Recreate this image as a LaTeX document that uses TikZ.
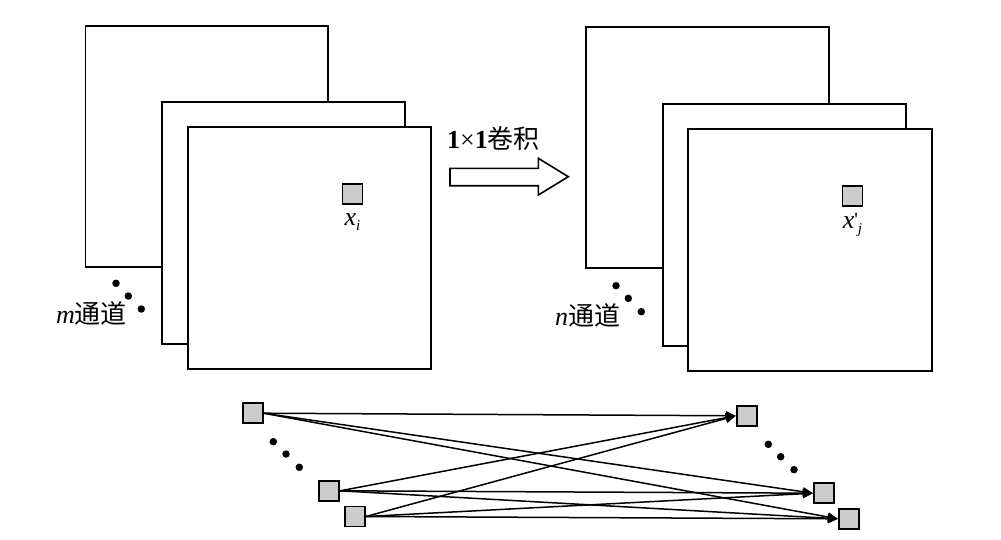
\documentclass[tikz,border=0pt]{standalone}
\usepackage{fontspec}
\setmainfont{Liberation Serif}
\newfontfamily\cjk{Noto Sans CJK SC}
\usetikzlibrary{arrows.meta}
\tikzset{
  fmap/.style={draw=black,fill=white,line width=1.9pt},
  pix/.style={draw=black,fill=black!20,line width=1.8pt,minimum width=20pt,minimum height=20pt,inner sep=0pt},
  conn/.style={line width=1.5pt,-{Triangle[length=10pt,width=9pt]}},
  dotmark/.style={circle,fill=black,inner sep=0pt,minimum size=7.5pt},
  lbl/.style={inner sep=0pt,font=\fontsize{26}{30}\selectfont},
}
\newcommand{\subs}[1]{\raisebox{-0.45ex}{\fontsize{15}{17}\selectfont\textit{#1}}}
\begin{document}
\begin{tikzpicture}[x=1pt,y=-1pt]
\useasboundingbox (0,0) rectangle (1001,539);
% left stack
\draw[fmap] (85.5,25.7) rectangle (328,266.7);
\draw[fmap] (162.3,102.3) rectangle (405.3,344);
\draw[fmap] (187.7,127.3) rectangle (430.7,369);
\node[pix] (xi) at (352.5,193.7) {};
\node[lbl] (xil) at (352.5,222) {\textit{x}\subs{i}};
\node[dotmark] (ld1) at (116,283.3) {};
\node[dotmark] (ld2) at (128.3,296) {};
\node[dotmark] (ld3) at (141.3,309) {};
\node[lbl,anchor=west] (mlab) at (56,313) {\textit{m}{\cjk 通道}};
% right stack
\draw[fmap] (585.7,27.3) rectangle (829,268.3);
\draw[fmap] (663,104.3) rectangle (906,346);
\draw[fmap] (688.3,129) rectangle (931.7,371.3);
\node[pix] (xj) at (852.5,196.2) {};
\node[lbl] (xjl) at (852.5,225) {\textit{x}\raisebox{0.2ex}{\fontsize{20}{22}\selectfont\textquotesingle}\subs{j}};
\node[dotmark] (rd1) at (616,285.7) {};
\node[dotmark] (rd2) at (628.3,298.3) {};
\node[dotmark] (rd3) at (641.3,311.7) {};
\node[lbl,anchor=west] (nlab) at (555,315) {\textit{n}{\cjk 通道}};
% big arrow
\draw[line width=1.6pt,fill=white] (450,168.3) -- (538.3,168.3) -- (538.3,158.3) -- (568.3,176.7) -- (538.3,195) -- (538.3,185.7) -- (450,185.7) -- cycle;
\node[lbl,anchor=west] (conv) at (447,139) {\textbf{1}×\textbf{1}{\cjk 卷积}};
% bottom
\node[pix] (a1) at (252.7,413.2) {};
\node[pix] (a2) at (329.3,490.8) {};
\node[pix] (a3) at (355,516.5) {};
\node[pix] (b1) at (746.7,415.8) {};
\node[pix] (b2) at (823.8,493.2) {};
\node[pix] (b3) at (848.8,518.8) {};
\node[dotmark] (bd1) at (273.3,441.7) {};
\node[dotmark] (bd2) at (286,454) {};
\node[dotmark] (bd3) at (299.3,467.3) {};
\node[dotmark] (bd4) at (768.3,444.3) {};
\node[dotmark] (bd5) at (780.7,456.7) {};
\node[dotmark] (bd6) at (794,469.7) {};
\foreach \s in {a1,a2,a3}{
  \foreach \t in {b1,b2,b3}{
    \draw[conn] (\s.east) -- (\t.west);
  }
}
\end{tikzpicture}
\end{document}
